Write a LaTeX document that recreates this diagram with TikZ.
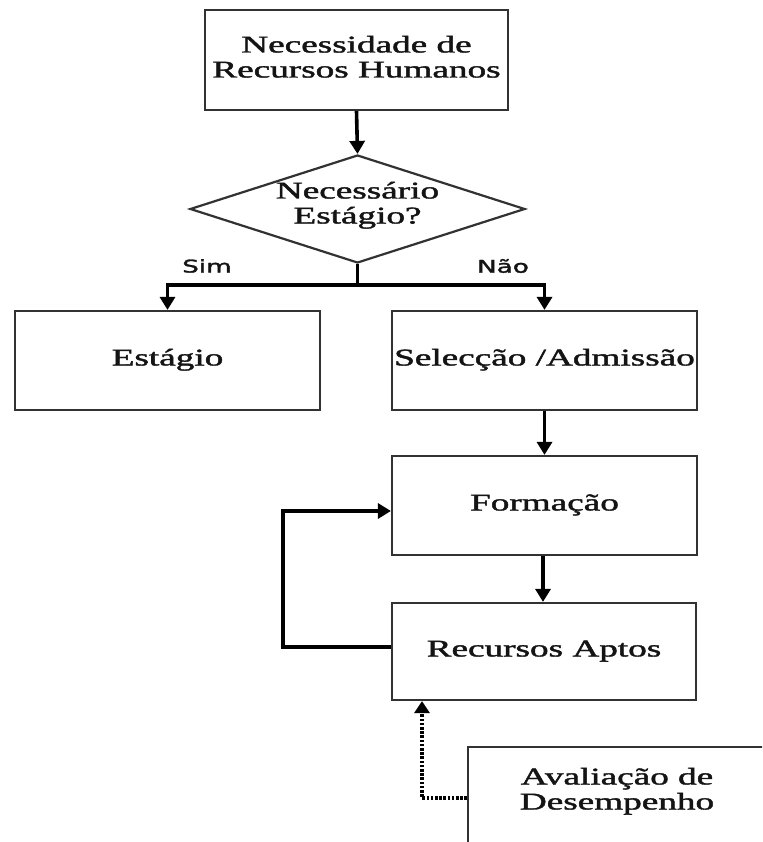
\documentclass[tikz,border=0pt]{standalone}
\usepackage{fontspec}
\setmainfont{Liberation Serif}
\newfontfamily\boxfont{Liberation Serif}[BoldFont={Liberation Serif},BoldFeatures={FakeBold=1.4}]
\newfontfamily\labelfont{DejaVu Sans}[BoldFont={DejaVu Sans},BoldFeatures={FakeBold=1.6}]
\usepackage{graphicx}
\usetikzlibrary{arrows.meta,shapes.geometric}

\definecolor{boxgray}{RGB}{50,50,50}
\definecolor{ink}{RGB}{20,20,20}

% horizontally widened text block, one or more centred lines
\newcommand\widetext[1]{\scalebox{1.55}[1]{\begin{tabular}{@{}c@{}}#1\end{tabular}}}
\newcommand\widelabel[1]{\scalebox{1.5}[1]{#1}}

\begin{document}
\begin{tikzpicture}[x=1pt,y=-1pt,
  box/.style={draw=boxgray,line width=2.2pt,inner sep=0pt,fill=white,text=ink,
              font=\boxfont\bfseries\fontsize{24}{25}\selectfont},
  decision/.style={diamond,draw=boxgray,line width=2.2pt,inner sep=0pt,fill=white},
  caption/.style={inner sep=0pt,text=ink,font=\boxfont\bfseries\fontsize{24}{25}\selectfont},
  branchlabel/.style={inner sep=0pt,text=ink,font=\labelfont\bfseries\fontsize{17.5}{19}\selectfont},
  arr/.style={draw=black,line width=3.6pt,-{Triangle[width=15pt,length=13pt]}},
  dotarr/.style={draw=black,line width=3.6pt,dash pattern=on 2.6pt off 1.6pt,
                 -{Triangle[width=15pt,length=12pt]}}]

\useasboundingbox (0,0) rectangle (762,842);
\clip (0,0) rectangle (762,842);
\fill[white] (0,0) rectangle (762,842);

% boxes
\node[box,minimum width=303pt,minimum height=100pt] (need) at (356.5,60)
  {\widetext{Necessidade de\\Recursos Humanos}};
\node[decision,minimum width=335pt,minimum height=108pt] (dia) at (357.5,209) {};
\node[caption] (diatext) at (357.5,206) {\widetext{Necessário\\Estágio?}};
\node[box,minimum width=305pt,minimum height=99pt] (est) at (167.5,360.5)
  {\widetext{Estágio}};
\node[box,minimum width=305pt,minimum height=99pt] (sel) at (544.5,360.5)
  {\widetext{Selecção /Admissão}};
\node[box,minimum width=305pt,minimum height=99pt] (form) at (544.5,505.5)
  {\widetext{Formação}};
\node[box,minimum width=304pt,minimum height=97pt] (apt) at (544,651.5)
  {\widetext{Recursos Aptos}};
\node[box,minimum width=312pt,minimum height=113pt] (aval) at (624,803.5) {};
\node[caption] (avaltext) at (617,792) {\widetext{Avaliação de\\Desempenho}};

% branch labels
\node[branchlabel] (sim) at (207,266) {\widelabel{Sim}};
\node[branchlabel] (nao) at (503,266) {\widelabel{Não}};

% connectors
\coordinate (br) at (357.5,285);
\draw[arr] (need.south) -- (dia.north);
\draw[draw=black,line width=3.6pt] (dia.south) -- (br);
\draw[arr] (br) -| (est.north);
\draw[arr] (br) -| (sel.north);
\draw[arr] (sel.south) -- (form.north);
\draw[arr] (form.south -| 543,0) -- (apt.north -| 543,0);

% loop back from the ready resources to training
\coordinate (loopb) at (283,647);
\coordinate (loopt) at (283,511);
\draw[arr] (apt.west |- loopb) -- (loopb) -- (loopt) -- (form.west |- loopt);

% dotted feedback from the performance review
\coordinate (dotc) at (422,798);
\draw[dotarr] (aval.west |- dotc) -- (dotc) -- (apt.south -| dotc);

\end{tikzpicture}
\end{document}
